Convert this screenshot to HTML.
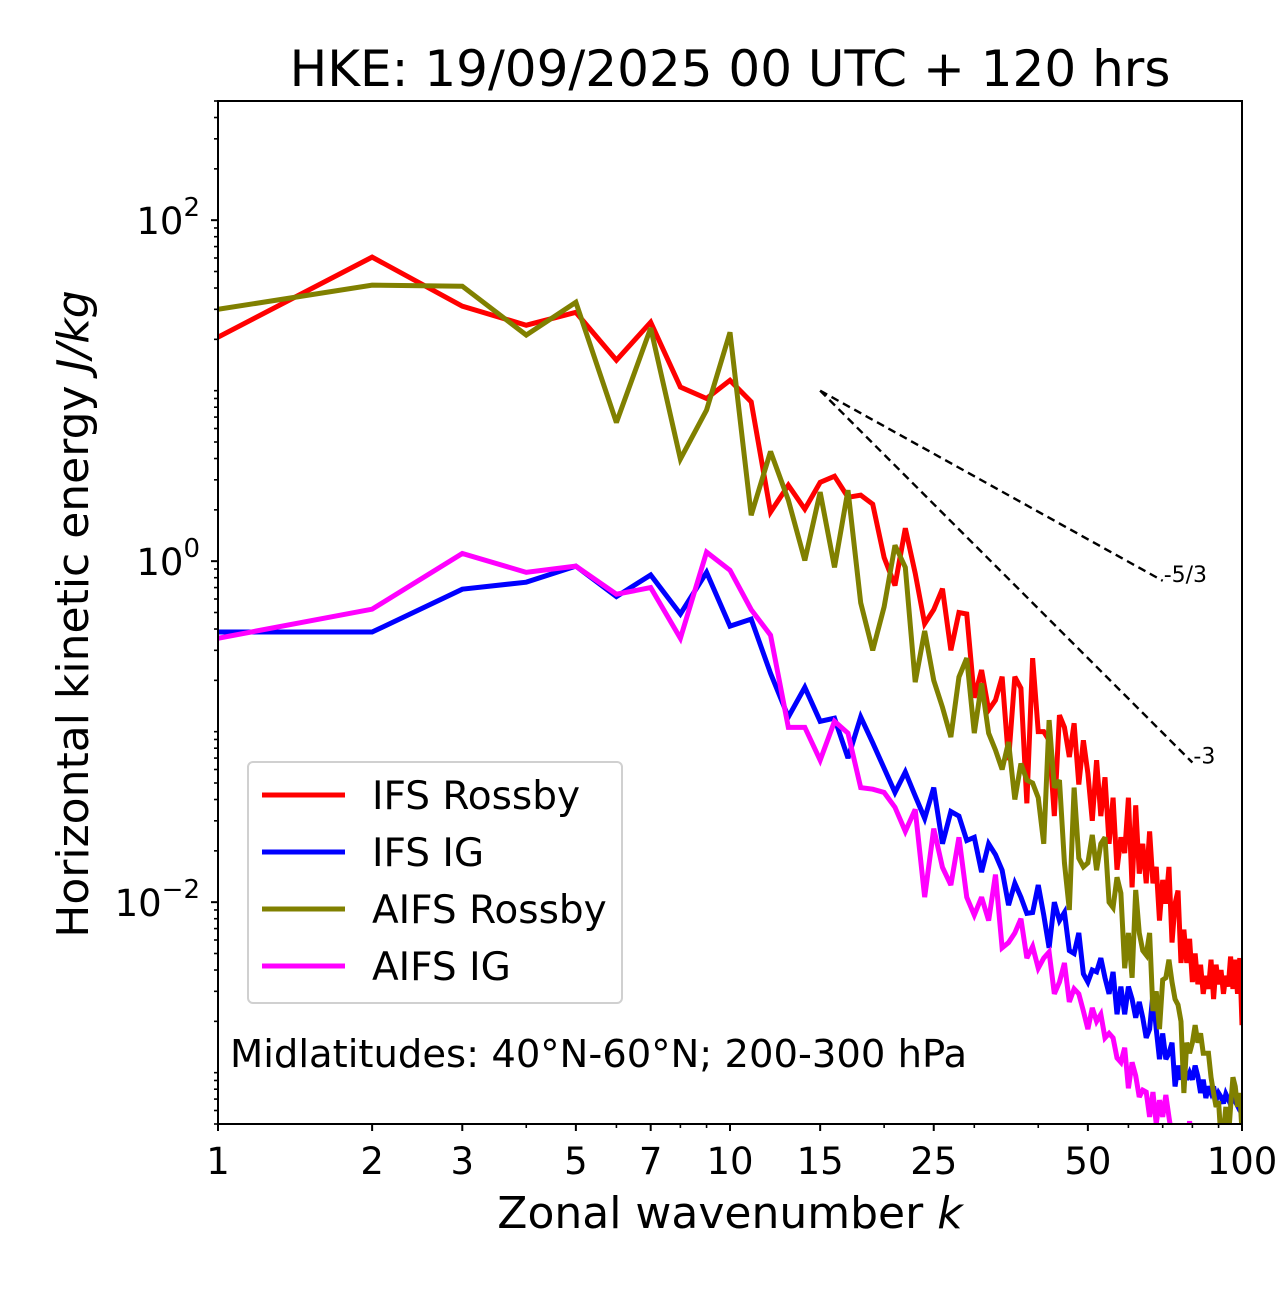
<!DOCTYPE html>
<html><head><meta charset="utf-8"><style>
html,body{margin:0;padding:0;background:#fff;}
svg text{font-family:"DejaVu Sans","Liberation Sans",sans-serif;fill:#000;}
</style></head><body>
<svg id="chart" width="1280" height="1288" viewBox="0 0 1280 1288" xmlns="http://www.w3.org/2000/svg">
<defs><clipPath id="plotclip"><rect x="218" y="101" width="1024" height="1023"/></clipPath></defs>
<rect width="1280" height="1288" fill="#fff"/>
<text x="730" y="86" font-size="50" text-anchor="middle">HKE: 19/09/2025 00 UTC + 120 hrs</text>
<g id="ticks"></g>
<g id="series" clip-path="url(#plotclip)"></g>
<rect x="218" y="101" width="1024" height="1023" fill="none" stroke="#000" stroke-width="2"/>
<text x="730" y="1228" font-size="44" text-anchor="middle">Zonal wavenumber <tspan font-style="italic">k</tspan></text>
<text transform="translate(88,614) rotate(-90)" font-size="44" text-anchor="middle">Horizontal kinetic energy <tspan font-style="italic">J/kg</tspan></text>
<g>
<rect x="248" y="762" width="374" height="241" rx="5" fill="#fff" fill-opacity="0.8" stroke="#d0d0d0" stroke-width="2"/>
<g><line x1="262" y1="795" x2="345" y2="795" stroke="#ff0000" stroke-width="5"/><text x="372" y="809" font-size="39">IFS Rossby</text></g>
<g><line x1="262" y1="852" x2="345" y2="852" stroke="#0000ff" stroke-width="5"/><text x="372" y="866" font-size="39">IFS IG</text></g>
<g><line x1="262" y1="909" x2="345" y2="909" stroke="#808000" stroke-width="5"/><text x="372" y="923" font-size="39">AIFS Rossby</text></g>
<g><line x1="262" y1="966" x2="345" y2="966" stroke="#ff00ff" stroke-width="5"/><text x="372" y="980" font-size="39">AIFS IG</text></g>
</g>
<text x="230" y="1067" font-size="38.5">Midlatitudes: 40°N-60°N; 200-300 hPa</text>
</svg>
<script>
const xTickLabels = [1, 2, 3, 5, 7, 10, 15, 25, 50, 100];
const xMinorTicks = [4, 6, 8, 9, 20, 30, 40, 60, 70, 80, 90];
const yMajorTicks = [100, 1, 0.01];
const yMajorLabels = ["2", "0", "\u22122"];
const ifsRossby = [20.6,60.7,31.3,24.2,28.8,15.1,25.2,10.5,9.0,11.5,8.6,1.94,2.79,2.02,2.9,3.15,2.37,2.44,2.16,1.05,0.72,1.56,0.85,0.43,0.52,0.69,0.30,0.50,0.49,0.158,0.23,0.134,
0.153,0.21,0.068,0.21,0.18,0.038,0.27,0.10,0.10,0.089,0.032,0.125,0.106,0.071,0.112,0.049,0.089,0.057,0.030,0.068,0.032,0.054,0.022,0.041,0.0155,0.024,0.0194,0.041,0.0122,0.037,0.0147,0.022,0.0129,0.026,0.0129,0.0161,0.0078,0.0135,0.0098,0.0161,0.0058,0.0098,0.0117,0.0044,0.0069,0.0044,0.0061,0.0034,0.0050,0.0033,0.0043,0.0029,0.0037,0.0031,0.0046,0.0027,0.0043,0.0033,0.0040,0.0029,0.0037,0.0032,0.0048,0.0031,0.0046,0.0029,0.0047,0.0019];
const ifsIG = [0.384,0.384,0.685,0.753,0.935,0.62,0.83,0.49,0.86,0.416,0.457,0.22,0.122,0.182,0.115,0.12,0.070,0.122,0.086,0.061,
0.044,0.058,0.042,0.031,0.047,0.022,0.034,0.032,0.023,0.024,0.015,0.022,0.019,0.0154,0.0096,0.0129,
0.0107,0.0086,0.0087,0.0126,0.0084,0.0054,0.010,0.0078,0.0087,0.0052,0.0050,0.0066,0.0038,0.0034,0.0040,0.0039,0.0047,0.0036,0.0029,0.0039,0.0022,0.0032,0.0022,0.0032,0.0027,0.0021,0.0026,0.0021,0.0016,0.0018,0.0029,0.0018,0.0012,0.0017,0.0012,0.0013,0.0015,0.00083,0.0011,0.00091,0.0011,0.00091,0.0010,0.00091,0.0011,0.00095,0.00076,0.00091,0.00071,0.00083,0.00076,0.00083,0.00069,0.00076,0.00072,0.00066,0.00075,0.0007,0.00065,0.00074,0.00068,0.00064,0.00072,0.0006];
const aifsRossby = [30,41.6,41,21.2,33,6.5,23.3,3.97,7.7,22,1.86,4.4,2.28,1.01,2.54,0.92,2.61,0.57,0.30,0.54,1.24,0.92,0.195,0.39,0.20,0.139,0.093,0.209,0.27,0.098,0.192,
0.098,0.078,0.060,0.087,0.040,0.065,0.052,0.050,0.041,0.022,0.117,0.047,0.052,0.017,0.0090,0.047,0.0181,0.0161,0.017,0.0248,0.0154,0.022,0.024,0.010,0.0093,0.014,0.0113,0.0041,0.0066,0.0036,0.0118,0.0066,0.0052,0.0049,0.0066,0.0023,0.0030,0.0018,0.0035,0.0036,0.0046,0.0034,0.0027,0.0025,0.0020,0.00076,0.0015,0.0013,0.0015,0.0019,0.0015,0.0017,0.0013,0.0013,0.0013,0.00094,0.00076,0.00063,0.00068,0.0004,0.00045,0.00063,0.0004,0.00063,0.00094,0.00083,0.00063,0.00076,0.00045];
const aifsIG = [0.353,0.523,1.11,0.86,0.935,0.64,0.70,0.353,1.13,0.885,0.52,0.368,0.106,0.106,0.068,0.115,0.098,
0.047,0.046,0.044,0.036,0.026,0.035,0.0107,0.027,0.016,0.0126,0.024,0.0107,0.0084,0.0107,0.0078,0.0145,0.0054,0.0058,0.0066,
0.0080,0.0047,0.0055,0.0041,0.0047,0.0051,0.0029,0.0034,0.0044,0.0026,0.0031,0.0029,0.0023,0.0018,0.0024,0.0020,0.0022,0.0016,0.0017,0.0016,0.00122,0.00115,0.0014,0.00081,0.00115,0.00096,0.00072,0.00079,0.00077,0.00055,0.00077,0.0005,0.00069,0.00055,0.00074,0.00055,
0.00042,0.00038,0.00048,0.00036,0.00045,0.00034,0.00052,0.00035,0.0003,0.00028,0.00025,0.0003,0.00024,0.00022,0.00026,0.0002,0.00022,0.00019,0.0002,0.00018,0.00017,0.00019,0.00016,0.00015,0.00017,0.00014,0.00015,0.00013];
const refStartK = 15;
const refStartE = 10;
const refSlopes = [-5/3, -3];
const refEndK = [70, 80];
const refLabels = ["-5/3", "-3"];

const NS = "http://www.w3.org/2000/svg";
const X0 = 218, XW = 1024, Y_TOP = 101, Y_BOT = 1124;
const LOGXMIN = 0, LOGXMAX = 2;
const LOGYMIN = Math.log10(0.0005), LOGYMAX = Math.log10(500);
function xScale(k){ return X0 + (Math.log10(k) - LOGXMIN) / (LOGXMAX - LOGXMIN) * XW; }
function yScale(v){ return Y_BOT - (Math.log10(v) - LOGYMIN) / (LOGYMAX - LOGYMIN) * (Y_BOT - Y_TOP); }
function mk(tag, attrs, parent){ const e = document.createElementNS(NS, tag); for (const a in attrs) e.setAttribute(a, attrs[a]); parent.appendChild(e); return e; }

const ticks = document.getElementById('ticks');
xTickLabels.forEach(k => {
  const x = xScale(k);
  const t = mk('line', {x1:x, x2:x, y1:Y_BOT, y2:Y_BOT+7, stroke:'#000', 'stroke-width':2}, ticks);
  
  
  const l = mk('text', {x:x, y:Y_BOT+50, 'font-size':37, 'text-anchor':'middle'}, ticks);
  
  
  l.textContent = String(k);
});
xMinorTicks.forEach(k => {
  const x = xScale(k);
  const t = mk('line', {x1:x, x2:x, y1:Y_BOT, y2:Y_BOT+4, stroke:'#000', 'stroke-width':1.6}, ticks);
  
  
});
for (let d = -4; d <= 2; d++) {
  for (let m = 1; m <= 9; m++) {
    const v = m * Math.pow(10, d);
    if (v < 0.0005 * 0.999 || v > 500 * 1.001) continue;
    const y = yScale(v);
    const major = (m === 1 && d % 2 === 0);
    const t = mk('line', {x1:X0 - (major ? 7 : 4), x2:X0, y1:y, y2:y, stroke:'#000', 'stroke-width': major ? 2 : 1.6}, ticks);
    
    
  }
}
yMajorTicks.forEach((v, i) => {
  const y = yScale(v);
  const l = mk('text', {x:200, y:y + 14, 'font-size':37, 'text-anchor':'end'}, ticks);
  
  
  l.textContent = '10';
  const s = mk('tspan', {dy:-18, 'font-size':26}, l);
  s.textContent = yMajorLabels[i];
});

const series = document.getElementById('series');
function drawSeries(arr, color, name){
  const pts = arr.map((v, i) => xScale(i + 1).toFixed(2) + ',' + yScale(v).toFixed(2)).join(' ');
  const p = mk('polyline', {points:pts, fill:'none', stroke:color, 'stroke-width':5, 'stroke-linejoin':'miter', 'stroke-miterlimit':3}, series);
  
  
}
drawSeries(ifsRossby, '#ff0000', 'ifs-rossby-line');
drawSeries(ifsIG, '#0000ff', 'ifs-ig-line');
drawSeries(aifsRossby, '#808000', 'aifs-rossby-line');
drawSeries(aifsIG, '#ff00ff', 'aifs-ig-line');

refSlopes.forEach((s, i) => {
  const x1 = xScale(refStartK), y1 = yScale(refStartE);
  const eEnd = refStartE * Math.pow(refEndK[i] / refStartK, s);
  const x2 = xScale(refEndK[i]), y2 = yScale(eEnd);
  const ln = mk('line', {x1:x1, y1:y1, x2:x2, y2:y2, stroke:'#000', 'stroke-width':2.4, 'stroke-dasharray':'8,5'}, series);
  
  
  const t = mk('text', {x:x2 + 1, y:y2 + 1, 'font-size':22}, document.getElementById('chart'));
  
  
  t.textContent = refLabels[i];
});
</script>
</body></html>
